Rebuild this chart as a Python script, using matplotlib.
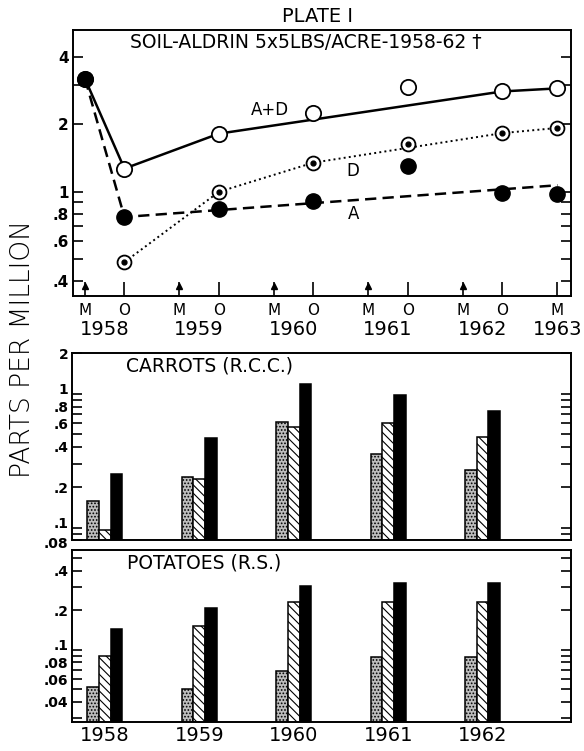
import matplotlib
matplotlib.use("Agg")
import matplotlib.pyplot as plt
import matplotlib.transforms as mtransforms
from matplotlib.ticker import FixedLocator, FixedFormatter, NullFormatter

plt.rcParams['font.family'] = ['DejaVu Sans']
plt.rcParams['hatch.linewidth'] = 0.8

# ---------------- data ----------------
# soil sampling: M = May, O = October (decimal years)
sample_labels = ["M", "O", "M", "O", "M", "O", "M", "O", "M", "O", "M"]
sample_dates = [1958.333, 1958.75, 1959.333, 1959.75, 1960.333, 1960.75,
                1961.333, 1961.75, 1962.333, 1962.75, 1963.333]
may_dates = [1958.333, 1959.333, 1960.333, 1961.333, 1962.333]
year_labels = ["1958", "1959", "1960", "1961", "1962", "1963"]
year_label_x = [1958.54, 1959.54, 1960.54, 1961.54, 1962.54, 1963.333]

# measured soil residues (ppm)
ad_dates = [1958.333, 1958.75, 1959.75, 1960.75, 1961.75, 1962.75, 1963.333]
ad_ppm = [3.2, 1.27, 1.82, 2.26, 2.93, 2.81, 2.9]
d_dates = [1958.75, 1959.75, 1960.75, 1961.75, 1962.75, 1963.333]
d_ppm = [0.485, 1.0, 1.35, 1.64, 1.83, 1.93]
a_dates = [1958.333, 1958.75, 1959.75, 1960.75, 1961.75, 1962.75, 1963.333]
a_ppm = [3.2, 0.772, 0.836, 0.912, 1.30, 0.987, 0.98]

# hand-drawn trend lines
ad_line_dates = [1958.333, 1958.75, 1959.75, 1962.75, 1963.333]
ad_line_ppm = [3.2, 1.27, 1.82, 2.81, 2.9]
d_line_dates = [1958.75, 1959.75, 1960.75, 1962.75, 1963.333]
d_line_ppm = [0.485, 1.0, 1.35, 1.83, 1.93]
a_line_dates = [1958.333, 1958.75, 1963.333]
a_line_ppm = [3.2, 0.772, 1.07]

# crop residues (ppm)
crop_years = [1958, 1959, 1960, 1961, 1962]
crop_year_labels = ["1958", "1959", "1960", "1961", "1962"]
carrot_stip = [0.157, 0.239, 0.61, 0.352, 0.266]
carrot_hatch = [0.095, 0.228, 0.566, 0.60, 0.476]
carrot_black = [0.252, 0.47, 1.18, 0.98, 0.748]
potato_stip = [0.0506, 0.049, 0.0673, 0.0869, 0.0866]
potato_hatch = [0.089, 0.150, 0.231, 0.231, 0.229]
potato_black = [0.1415, 0.206, 0.302, 0.321, 0.321]

# ---------------- figure ----------------
fig = plt.figure(figsize=(5.84, 7.51), dpi=100)
ax1 = fig.add_axes([0.1245, 0.6059, 0.8532, 0.3542])
ax2 = fig.add_axes([0.1240, 0.2803, 0.8530, 0.2490])
ax3 = fig.add_axes([0.1240, 0.0386, 0.8530, 0.2290])

xlim = (1958.203, 1963.476)
for ax in (ax1, ax2, ax3):
    ax.set_xlim(*xlim)
    ax.set_yscale('log')
    for s in ax.spines.values():
        s.set_linewidth(1.4)
    ax.tick_params(which='both', axis='y', direction='in', length=7, width=1.2,
                   left=True, right=True, labelsize=11, pad=3)


def shift_labels(ax, shifts):
    """shift selected y tick labels vertically (pixels) to keep them apart"""
    locs = list(ax.yaxis.get_majorticklocs())
    labels = ax.get_yticklabels()
    for loc, lab in zip(locs, labels):
        lab.set_fontweight('bold')
        for v, dy in shifts:
            if abs(loc - v) < 1e-9:
                lab.set_transform(lab.get_transform() +
                                  mtransforms.ScaledTranslation(0, dy / 100.0,
                                                                fig.dpi_scale_trans))


# ----- top panel -----
ax1.set_ylim(0.3424, 5.29)
ax1.plot(ad_line_dates, ad_line_ppm, '-', color='black', lw=1.8, zorder=2)
ax1.plot(d_line_dates, d_line_ppm, ':', color='black', lw=1.4, zorder=2)
ax1.plot(a_line_dates, a_line_ppm, color='black', lw=1.8, ls=(0, (4.5, 2.5)), zorder=2)
ax1.plot(ad_dates, ad_ppm, 'o', ms=11, mfc='white', mec='black', mew=1.3, zorder=3)
ax1.plot(d_dates, d_ppm, 'o', ms=10, mfc='white', mec='black', mew=1.3, zorder=3)
ax1.plot(d_dates, d_ppm, 'o', ms=3.5, mfc='black', mec='black', zorder=4)
ax1.plot(a_dates, a_ppm, 'o', ms=11, mfc='black', mec='black', zorder=5)

ax1.yaxis.set_major_locator(FixedLocator([0.4, 0.6, 0.8, 1, 2, 4]))
ax1.yaxis.set_major_formatter(FixedFormatter([".4", ".6", ".8", "1", "2", "4"]))
ax1.yaxis.set_minor_locator(FixedLocator([0.5, 0.7, 0.9, 3]))
ax1.yaxis.set_minor_formatter(NullFormatter())
ax1.set_xticks(sample_dates)
ax1.set_xticklabels(sample_labels)
ax1.tick_params(axis='x', direction='in', length=10, width=1.2, labelsize=11, pad=5, top=False)
shift_labels(ax1, [])

trans1 = mtransforms.blended_transform_factory(ax1.transData, ax1.transAxes)
ax1.plot(may_dates, [0.036] * len(may_dates), marker='^', ls='none', ms=4.5,
         color='black', transform=trans1, clip_on=False)
for x, lab in zip(year_label_x, year_labels):
    ax1.text(x, -0.125, lab, transform=trans1, ha='center', va='center', fontsize=14)

ax1.text(0.468, 0.951, "SOIL-ALDRIN 5x5LBS/ACRE-1958-62 \u2020", transform=ax1.transAxes,
         ha='center', va='center', fontsize=13.5)
ax1.text(1960.29, 2.31, "A+D", ha='center', va='center', fontsize=12)
ax1.text(1961.17, 1.24, "D", ha='center', va='center', fontsize=12)
ax1.text(1961.17, 0.80, "A", ha='center', va='center', fontsize=12)
fig.text(0.5445, 0.9774, "PLATE I", ha='center', va='center', fontsize=14)

# ----- bar panels -----
centers = [y + 0.545 for y in crop_years]
bw = 0.124


def draw_bars(ax, stip, hatch, black):
    xs = [c - bw for c in centers]
    ax.bar(xs, stip, width=bw, bottom=0.001, facecolor='#bdbdbd', edgecolor='black',
           hatch='.....', lw=1.1, zorder=2)
    ax.bar(centers, hatch, width=bw, bottom=0.001, facecolor='white', edgecolor='black',
           hatch='\\\\\\\\', lw=1.1, zorder=2)
    xs = [c + bw for c in centers]
    ax.bar(xs, black, width=bw, bottom=0.001, facecolor='black', edgecolor='black',
           lw=1.1, zorder=2)


draw_bars(ax2, carrot_stip, carrot_hatch, carrot_black)
ax2.set_ylim(0.08, 2.0)
ax2.yaxis.set_major_locator(FixedLocator([0.08, 0.1, 0.2, 0.4, 0.6, 0.8, 1, 2]))
ax2.yaxis.set_major_formatter(FixedFormatter([".08", ".1", ".2", ".4", ".6", ".8", "1", "2"]))
ax2.yaxis.set_minor_locator(FixedLocator([0.09, 0.3, 0.5, 0.7, 0.9]))
ax2.yaxis.set_minor_formatter(NullFormatter())
ax2.tick_params(axis='y', which='major', labelsize=10)
ax2.set_xticks([])
shift_labels(ax2, [(1, 5), (0.1, 5), (0.08, -2)])
ax2.text(0.108, 0.935, "CARROTS (R.C.C.)", transform=ax2.transAxes, ha='left',
         va='center', fontsize=13.5)

draw_bars(ax3, potato_stip, potato_hatch, potato_black)
ax3.set_ylim(0.028, 0.575)
ax3.yaxis.set_major_locator(FixedLocator([0.04, 0.06, 0.08, 0.1, 0.2, 0.4]))
ax3.yaxis.set_major_formatter(FixedFormatter([".04", ".06", ".08", ".1", ".2", ".4"]))
ax3.yaxis.set_minor_locator(FixedLocator([0.03, 0.05, 0.07, 0.09, 0.3, 0.5]))
ax3.yaxis.set_minor_formatter(NullFormatter())
ax3.tick_params(axis='y', which='major', labelsize=10)
ax3.set_xticks(centers)
ax3.set_xticklabels(crop_year_labels)
ax3.tick_params(axis='x', length=0, labelsize=14, pad=3)
shift_labels(ax3, [(0.1, 5), (0.06, -1)])
ax3.text(0.11, 0.924, "POTATOES (R.S.)", transform=ax3.transAxes, ha='left',
         va='center', fontsize=13.5)

fig.text(0.038, 0.535, "PARTS PER MILLION", rotation=90, ha='center', va='center',
         fontsize=19, fontweight='light')

fig.savefig("out.png", dpi=100)
